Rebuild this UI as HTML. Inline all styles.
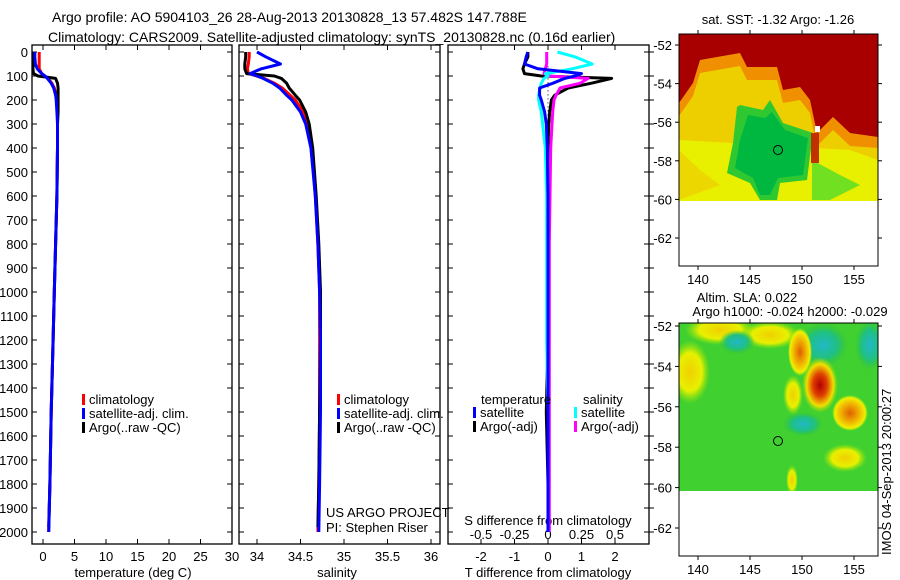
<!DOCTYPE html>
<html><head><meta charset="utf-8"><style>
body{margin:0;background:#fff;}
svg{display:block;font-family:"Liberation Sans",sans-serif;}
text{font-size:13px;fill:#000;}
</style></head><body>
<svg id="fig" width="900" height="580" viewBox="0 0 900 580">
<defs>
<radialGradient id="gRed"><stop offset="0" stop-color="#b00000"/><stop offset="0.4" stop-color="#e04000"/><stop offset="0.75" stop-color="#f0e000"/><stop offset="1" stop-color="#a0e000" stop-opacity="0"/></radialGradient>
<radialGradient id="gOr"><stop offset="0" stop-color="#e06000"/><stop offset="0.5" stop-color="#f0b000"/><stop offset="0.85" stop-color="#f0f000"/><stop offset="1" stop-color="#c0f000" stop-opacity="0"/></radialGradient>
<radialGradient id="gYel"><stop offset="0" stop-color="#f0d000"/><stop offset="0.6" stop-color="#e8f000"/><stop offset="1" stop-color="#a0e800" stop-opacity="0"/></radialGradient>
<radialGradient id="gCy"><stop offset="0" stop-color="#20b8c8"/><stop offset="0.6" stop-color="#20c080"/><stop offset="1" stop-color="#30c040" stop-opacity="0"/></radialGradient>
</defs>
<g>
<text x="52" y="22" style="font-size:14px">Argo profile: AO 5904103_26 28-Aug-2013 20130828_13 57.482S 147.788E</text>
<text x="48" y="42" style="font-size:14px">Climatology: CARS2009. Satellite-adjusted climatology: synTS_20130828.nc (0.16d earlier)</text>
</g>
<g id="plots"></g>
<!-- SST map -->
<g>
<text x="778" y="24" text-anchor="middle">sat. SST: -1.32 Argo: -1.26</text>
<clipPath id="c1"><rect x="679" y="34" width="199" height="167"/></clipPath>
<g clip-path="url(#c1)">
<rect x="679" y="34" width="199" height="167" fill="#e8f000"/>
<polygon points="679,34 878,34 878,160 850,150 679,140" fill="#f0c000" opacity="0.7"/>
<polygon points="679,150 700,170 720,185 679,200" fill="#f0c000" opacity="0.5"/>
<polygon points="679,34 878,34 878,148 850,146 833,130 817,146 810,113 800,100 783,103 777,80 747,80 740,66 717,70 700,73 693,96 679,116" fill="#f09000"/>
<polygon points="679,34 878,34 878,137 850,133 833,117 817,133 810,100 800,87 783,90 777,67 747,67 740,53 717,57 700,60 693,83 679,103" fill="#a80000"/>
<polygon points="740,105 763,110 770,100 783,123 813,133 807,180 780,183 777,200 760,200 750,183 727,173 733,143 737,107" fill="#30c830"/>
<polygon points="748,115 765,118 772,112 785,130 808,138 803,175 778,178 770,195 760,195 753,178 735,168 740,140" fill="#00b840"/>
<polygon points="812,160 840,175 860,185 830,200 812,200" fill="#70e020"/>
<rect x="811" y="133" width="8" height="30" fill="#c03000"/>
<rect x="815" y="126" width="5" height="6" fill="#fff"/>
</g>
<rect x="679" y="201" width="199" height="65" fill="#fff"/>
<circle cx="778" cy="150" r="4.5" fill="none" stroke="#000" stroke-width="1"/>
<rect x="679" y="34" width="199" height="232" fill="none" stroke="#000" stroke-width="1"/>
</g>
<!-- SLA map -->
<g>
<text x="747" y="302" text-anchor="middle">Altim. SLA: 0.022</text>
<text x="790" y="316" text-anchor="middle">Argo h1000: -0.024 h2000: -0.029</text>
<clipPath id="c2"><rect x="679" y="323" width="199" height="168"/></clipPath>
<g clip-path="url(#c2)">
<rect x="679" y="323" width="199" height="168" fill="#40d030"/>
<ellipse cx="690" cy="372" rx="20" ry="32" fill="url(#gYel)"/>
<ellipse cx="720" cy="330" rx="35" ry="15" fill="url(#gYel)"/>
<ellipse cx="770" cy="335" rx="30" ry="14" fill="url(#gYel)"/>
<ellipse cx="737" cy="342" rx="18" ry="12" fill="url(#gCy)"/>
<ellipse cx="823" cy="345" rx="25" ry="22" fill="url(#gCy)"/>
<ellipse cx="870" cy="345" rx="15" ry="25" fill="url(#gCy)"/>
<ellipse cx="803" cy="424" rx="20" ry="12" fill="url(#gCy)"/>
<ellipse cx="800" cy="352" rx="12" ry="24" fill="url(#gOr)"/>
<ellipse cx="820" cy="385" rx="18" ry="28" fill="url(#gRed)"/>
<ellipse cx="850" cy="413" rx="18" ry="18" fill="url(#gOr)"/>
<ellipse cx="845" cy="458" rx="22" ry="14" fill="url(#gYel)"/>
<ellipse cx="793" cy="395" rx="10" ry="20" fill="url(#gYel)"/>
<ellipse cx="792" cy="480" rx="6" ry="15" fill="url(#gYel)"/>
</g>
<rect x="679" y="491" width="199" height="65" fill="#fff"/>
<circle cx="778" cy="441" r="4.5" fill="none" stroke="#000" stroke-width="1"/>
<rect x="679" y="323" width="199" height="233" fill="none" stroke="#000" stroke-width="1"/>
<text transform="translate(891,555) rotate(-90)">IMOS 04-Sep-2013 20:00:27</text>
</g>
<g id="maps-axes"></g>
</svg>
<script>
// ---------- data ----------
const depths = [0,20,50,70,90,100,110,130,150,180,200,250,300,400,600,800,1000,1200,1500,1800,2000];
const tempClim = [-0.6,-0.6,-0.6,-0.6,-0.2,0.3,0.8,1.4,1.8,2.1,2.2,2.3,2.3,2.3,2.2,2.0,1.8,1.6,1.3,1.1,0.9];
const tempSat = [-1.3,-1.3,-1.2,-0.9,-0.2,0.3,0.7,1.3,1.7,2.0,2.1,2.2,2.3,2.3,2.2,2.0,1.8,1.6,1.3,1.1,0.9];
const tempArgo = [-1.5,-1.5,-1.5,-1.6,-1.5,-0.8,2.0,2.3,2.4,2.4,2.4,2.4,2.3,2.3,2.2,2.0,1.8,1.6,1.3,1.1,0.9];
const salClim = [33.91,33.91,33.9,33.89,33.9,34.0,34.08,34.2,34.29,34.38,34.44,34.53,34.58,34.63,34.67,34.70,34.72,34.72,34.72,34.71,34.70];
const salSat = [34.0,34.1,34.27,34.05,33.92,34.0,34.07,34.18,34.26,34.34,34.4,34.5,34.56,34.62,34.67,34.70,34.72,34.73,34.73,34.72,34.71];
const salArgo = [33.87,33.87,33.86,33.86,33.88,34.2,34.28,34.34,34.37,34.44,34.49,34.56,34.6,34.64,34.68,34.71,34.73,34.73,34.72,34.71,34.70];
const dTSat = [-0.6,-0.65,-0.7,-0.3,1.0,0.8,0.5,0.15,-0.25,-0.25,-0.2,-0.1,-0.05,-0.02,0,0,0,0,0,0,0];
const dTArgo = [-0.6,-0.6,-0.7,-0.75,-0.7,-0.2,1.9,1.3,0.6,0.2,0.1,0.05,0.02,0,0,0,0,0,-0.05,0,0];
const dSSat = [0.07,0.2,0.33,0.18,-0.02,0.0,-0.03,-0.05,-0.06,-0.07,-0.07,-0.05,-0.04,-0.02,-0.01,-0.01,-0.01,-0.01,0,0,0];
const dSArgo = [-0.01,-0.01,-0.01,-0.02,-0.03,0.0,0.3,0.24,0.09,0.06,0.045,0.035,0.03,0.02,0.015,0.01,0.01,0.01,0.01,0.01,0.01];
const depthTicks = [0,100,200,300,400,500,600,700,800,900,1000,1100,1200,1300,1400,1500,1600,1700,1800,1900,2000];
const tempTicks = [0,5,10,15,20,25,30];
const salTicks = [34,34.5,35,35.5,36];
const dTTicks = [-2,-1,0,1,2];
const dSTickLabels = ['-0.5','-0.25','0','0.25','0.5'];
const lonTicks = [140,145,150,155];
const latTicks = [-52,-54,-56,-58,-60,-62];

// ---------- scales ----------
const NS='http://www.w3.org/2000/svg';
const axTop=45, axBot=544;
const yD = d => 52 + d*0.24;
const xT = t => 43 + t*6.3;
const xS = s => 257 + (s-34)*87;
const xDT = t => 548 + t*33.5;
const xDS = s => 548 + s*134;
const g = document.getElementById('plots');
function el(tag, attrs, parent){const e=document.createElementNS(NS,tag);for(const k in attrs)e.setAttribute(k,attrs[k]);(parent||g).appendChild(e);return e;}
function txt(x,y,s,anchor,parent){const t=el('text',{x:x,y:y,'text-anchor':anchor||'middle'},parent);t.textContent=s;return t;}

function panel(name,x0,x1){
  const r=el('rect',{x:x0,y:axTop,width:x1-x0,height:axBot-axTop,fill:'none',stroke:'#000','stroke-width':1.3});
  
  
}
function line(xs,ys,color,name,width){
  const p=xs.map((v,i)=>(i?'L':'M')+v.toFixed(1)+','+yD(ys[i]).toFixed(1)).join('');
  const e=el('path',{d:p,fill:'none',stroke:color,'stroke-width':width||3,'stroke-linejoin':'round'});
  
  
}
function yticks(x0,x1,right){
  depthTicks.forEach(d=>{
    const y=yD(d);
    el('line',{x1:x0,y1:y,x2:x0+5,y2:y,stroke:'#000'});
    el('line',{x1:x1,y1:y,x2:x1-5,y2:y,stroke:'#000'});
    if(right) el('line',{x1:x1,y1:y,x2:x1+5,y2:y,stroke:'#000'});
  });
}
function xticks(vals,fx){
  vals.forEach(v=>{const x=fx(v);
    el('line',{x1:x,y1:axTop,x2:x,y2:axTop+5,stroke:'#000'});
    el('line',{x1:x,y1:axBot,x2:x,y2:axBot-5,stroke:'#000'});});
}

// Panel 1: temperature
panel('temperature-panel',32,232);
yticks(32,232);
xticks(tempTicks,xT);
depthTicks.forEach(d=>{const t=txt(28,yD(d)+5,String(d),'end');
  
  });
tempTicks.forEach(v=>{const t=txt(xT(v),561,String(v));
  
  });
const xt1=txt(133,577,'temperature (deg C)');


line(tempClim.map(xT),depths,'#ff0000','temperature-climatology-line');
line(tempArgo.map(xT),depths.map(d=>Math.min(d,1980)),'#000','temperature-argo-line');
line(tempSat.map(xT),depths,'#0000ff','temperature-satellite-line');

// Panel 2: salinity
panel('salinity-panel',239,440);
yticks(239,440);
xticks(salTicks,xS);
salTicks.forEach(v=>{const t=txt(xS(v),561,String(v));
  
  });
const xt2=txt(337,577,'salinity');


line(salClim.map(xS),depths,'#ff0000','salinity-climatology-line');
line(salArgo.map(xS),depths.map(d=>Math.min(d,1980)),'#000','salinity-argo-line');
line(salSat.map(xS),depths,'#0000ff','salinity-satellite-line');

// Panel 3: differences
panel('difference-panel',448,649);
yticks(448,649,true);
xticks(dTTicks,xDT);
el('line',{x1:548,y1:yD(60),x2:548,y2:yD(320),stroke:'#000','stroke-dasharray':'1,3'});
dTTicks.forEach(v=>{const t=txt(xDT(v),561,String(v));
  
  });
dSTickLabels.forEach(s=>{const t=txt(xDS(parseFloat(s)),539,s);
  
  });
const st=txt(548,525,'S difference from climatology');


const tt=txt(548,577,'T difference from climatology');


line(dTArgo.map(xDT),depths.map(d=>Math.min(d,1980)),'#000','t-diff-argo-line');
line(dSArgo.map(xDS),depths,'#ff00ff','s-diff-argo-line');
line(dSSat.map(xDS),depths,'#00ffff','s-diff-satellite-line');
line(dTSat.map(xDT),depths,'#0000ff','t-diff-satellite-line');

// legends
function legend(x,y,color,label,name){
  const gr=el('g',{});
  
  
  el('rect',{x:x,y:y-10,width:3,height:11,fill:color},gr);
  txt(x+7,y,label,'start',gr);
}
legend(82,404,'#ff0000','climatology','legend-temp-climatology');
legend(82,418,'#0000ff','satellite-adj. clim.','legend-temp-satellite');
legend(82,432,'#000','Argo(..raw -QC)','legend-temp-argo');
legend(337,404,'#ff0000','climatology','legend-sal-climatology');
legend(337,418,'#0000ff','satellite-adj. clim.','legend-sal-satellite');
legend(337,432,'#000','Argo(..raw -QC)','legend-sal-argo');
const lt=txt(481,404,'temperature','start');


const ls=txt(583,404,'salinity','start');


legend(473,417,'#0000ff','satellite','legend-t-satellite');
legend(473,431,'#000','Argo(-adj)','legend-t-argo');
legend(574,417,'#00ffff','satellite','legend-s-satellite');
legend(574,431,'#ff00ff','Argo(-adj)','legend-s-argo');
const pr=el('g',{});


txt(326,517,'US ARGO PROJECT','start',pr);
txt(326,532,'PI: Stephen Riser','start',pr);

// map axes
const ma=document.getElementById('maps-axes');
const xLon = l => 698 + (l-140)*10.4;
[[34,266,45,19.3],[323,556,326,20.2]].forEach(([y0,y1,yl,sc])=>{
  lonTicks.forEach(l=>{const x=xLon(l);
    el('line',{x1:x,y1:y0,x2:x,y2:y0-4,stroke:'#000'},ma);
    el('line',{x1:x,y1:y1,x2:x,y2:y1+4,stroke:'#000'},ma);
    const t=txt(x,y1+18,String(l),'middle',ma);
    
    });
  latTicks.forEach(la=>{const y=yl+(-52-la)*sc;
    el('line',{x1:679,y1:y,x2:675,y2:y,stroke:'#000'},ma);
    el('line',{x1:878,y1:y,x2:882,y2:y,stroke:'#000'},ma);
    const t=txt(672,y+5,String(la),'end',ma);
    
    });
});
</script>
</body></html>
